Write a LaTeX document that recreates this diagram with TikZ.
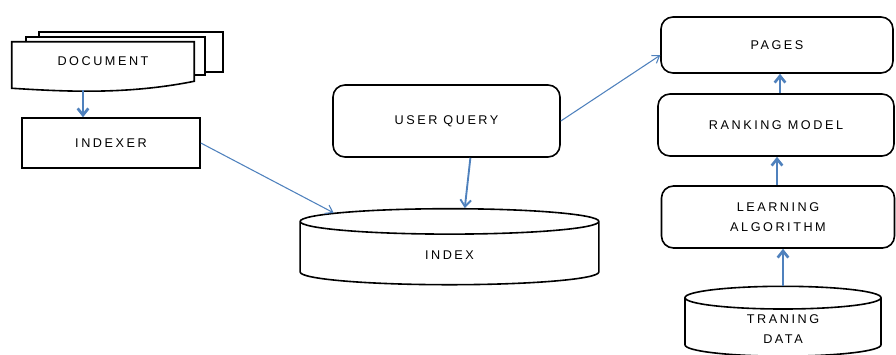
\documentclass[tikz,border=0pt]{standalone}
\usepackage{fontspec}
\setmainfont{Liberation Sans}
\newfontfamily\boxfont[LetterSpace=20]{Liberation Sans}
\usetikzlibrary{arrows.meta,shapes.geometric}
\definecolor{arrowblue}{RGB}{79,129,189}
\begin{document}
\begin{tikzpicture}[x=0.75pt,y=-0.75pt]
    \tikzstyle{boxtext}=[font=\fontsize{9.5}{15.5}\selectfont\boxfont, align=center]
    \tikzstyle{plainbox}=[draw, line width=1.2pt, boxtext]
    \tikzstyle{roundbox}=[plainbox, rounded corners=9pt]
    \tikzstyle{store}=[plainbox, cylinder, shape border rotate=90, aspect=0.44]
    \tikzstyle{thinarrow}=[draw=arrowblue, line width=0.8pt, -{Straight Barb[length=5pt,width=7pt]}]
    \tikzstyle{thickarrow}=[draw=arrowblue, line width=2pt, -{Straight Barb[length=5pt,width=8pt]}]
    \useasboundingbox (0,0) rectangle (896,354);
    % document stack
    \filldraw[fill=white, line width=1.2pt] (39,32) rectangle (223,72);
    \filldraw[fill=white, line width=1.2pt] (26,37) rectangle (205,75);
    \node[boxtext, minimum width=136.5pt, minimum height=28.5pt] (doc) at (103,61) {};
    \filldraw[fill=white, line width=1.2pt] (doc.north west) -- (doc.north east) -- ([yshift=-0.75pt]doc.south east)
      .. controls +(-70,14) and +(50,3) .. ([yshift=-6pt]doc.south west) -- cycle;
    \node[boxtext] at (doc.center) {DOCUMENT};
    \coordinate (docout) at (83,90);
    % left and middle
    \node[plainbox, minimum width=133.5pt, minimum height=37.5pt] (indexer) at (111,143) {INDEXER};
    \node[roundbox, minimum width=170.25pt, minimum height=54pt] (query) at (446.5,121) {USER QUERY};
    \node[store, minimum width=224pt, minimum height=57pt] (index) at (449.5,255) {INDEX};
    % right column
    \node[roundbox, minimum width=174pt, minimum height=42pt] (pages) at (777,45) {PAGES};
    \node[roundbox, minimum width=177pt, minimum height=46.5pt] (ranking) at (776,125) {RANKING MODEL};
    \node[roundbox, minimum width=174.75pt, minimum height=46.5pt] (learning) at (778,217) {LEARNING\\ALGORITHM};
    \node[store, aspect=0.28, minimum width=147pt, minimum height=52pt] (training) at (783,329) {TRANING\\DATA};
    % connectors
    \draw[thickarrow] (docout) -- (docout |- indexer.north);
    \draw[thinarrow] (indexer.east) -- (index.160);
    \draw[thickarrow, line width=1.4pt] (query.-57) -- (index.72);
    \draw[thinarrow] (query.east) -- (pages.185);
    \draw[thickarrow] (ranking.north -| 780,0) -- (pages.south -| 780,0);
    \draw[thickarrow] (learning.north -| 777,0) -- (ranking.south -| 777,0);
    \draw[thickarrow] (training.north -| 783,0) -- (learning.south -| 783,0);
\end{tikzpicture}
\end{document}
